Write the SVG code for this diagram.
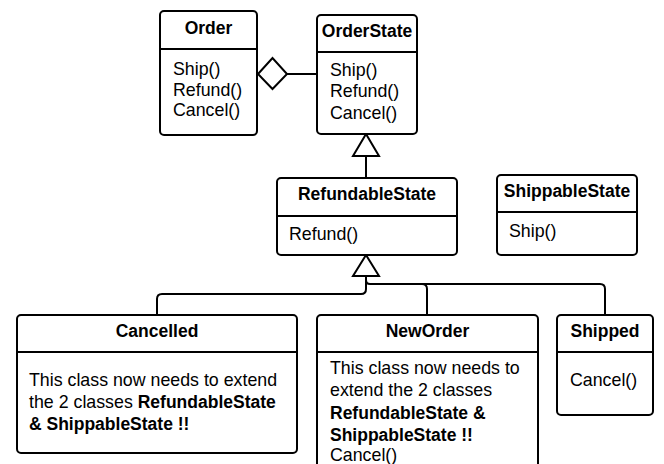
<svg xmlns="http://www.w3.org/2000/svg" width="664" height="464" viewBox="0 0 664 464">
<style>
.box{fill:#fff;stroke:#000;stroke-width:2}
.div{stroke:#000;stroke-width:2}
.t{font-family:"Liberation Sans",Arial,sans-serif;font-size:17.8px;fill:#000}
.b{font-weight:bold;font-size:17.5px}
.c{text-anchor:middle}
.ln{fill:none;stroke:#000;stroke-width:2}
.hd{fill:#fff;stroke:#000;stroke-width:2}
</style>
<rect width="664" height="464" fill="#fff"/>
<g id="connectors">
<polygon class="hd" points="258,74 272.5,58 287,74 272.5,89"/>
<line class="ln" x1="287" y1="74" x2="317" y2="74"/>
<line class="ln" x1="366" y1="156" x2="366" y2="178"/>
<polygon class="hd" points="366,134 353,156 379,156"/>
<path class="ln" d="M366,276 V289 q0,5 -5,5 H162 q-5,0 -5,5 V315"/>
<path class="ln" d="M366,276 V280 q0,4 4,4 H422 q5,0 5,5 V315"/>
<path class="ln" d="M420,284 H600 q5,0 5,5 V315"/>
<polygon class="hd" points="366,255 353,276 379,276"/>
</g>
<g id="Order">
<rect class="box" x="160" y="11" width="97" height="124" rx="4"/>
<line class="div" x1="160" y1="49" x2="257" y2="49"/>
<text class="t b c" x="208.5" y="34">Order</text>
<text class="t" x="173" y="75">Ship()</text>
<text class="t" x="173" y="96">Refund()</text>
<text class="t" x="173" y="116">Cancel()</text>
</g>
<g id="OrderState">
<rect class="box" x="317" y="15" width="100" height="119" rx="4"/>
<line class="div" x1="317" y1="52" x2="417" y2="52"/>
<text class="t b c" x="367" y="37">OrderState</text>
<text class="t" x="330" y="76">Ship()</text>
<text class="t" x="330" y="97">Refund()</text>
<text class="t" x="330" y="119">Cancel()</text>
</g>
<g id="RefundableState">
<rect class="box" x="277" y="178" width="180" height="77" rx="4"/>
<line class="div" x1="277" y1="216" x2="457" y2="216"/>
<text class="t b c" x="367" y="200">RefundableState</text>
<text class="t" x="289" y="240">Refund()</text>
</g>
<g id="ShippableState">
<rect class="box" x="497" y="175" width="140" height="80" rx="4"/>
<line class="div" x1="497" y1="212" x2="637" y2="212"/>
<text class="t b c" x="567" y="197">ShippableState</text>
<text class="t" x="509" y="237">Ship()</text>
</g>
<g id="Cancelled">
<rect class="box" x="17" y="315" width="280" height="138" rx="4"/>
<line class="div" x1="17" y1="352" x2="297" y2="352"/>
<text class="t b c" x="157" y="337">Cancelled</text>
<text class="t" x="29" y="386">This class now needs to extend</text>
<text class="t" x="29" y="408">the 2 classes <tspan class="b">RefundableState</tspan></text>
<text class="t b" x="29" y="430">&amp; ShippableState !!</text>
</g>
<g id="NewOrder">
<rect class="box" x="317" y="315" width="221" height="160" rx="4"/>
<line class="div" x1="317" y1="352" x2="538" y2="352"/>
<text class="t b c" x="427.5" y="337">NewOrder</text>
<text class="t" x="330" y="374">This class now needs to</text>
<text class="t" x="330" y="396">extend the 2 classes</text>
<text class="t b" x="330" y="419">RefundableState &amp;</text>
<text class="t b" x="330" y="441">ShippableState !!</text>
<text class="t" x="330" y="461">Cancel()</text>
</g>
<g id="Shipped">
<rect class="box" x="557" y="315" width="96" height="100" rx="4"/>
<line class="div" x1="557" y1="352" x2="653" y2="352"/>
<text class="t b c" x="605" y="337">Shipped</text>
<text class="t" x="570" y="386">Cancel()</text>
</g>
</svg>
